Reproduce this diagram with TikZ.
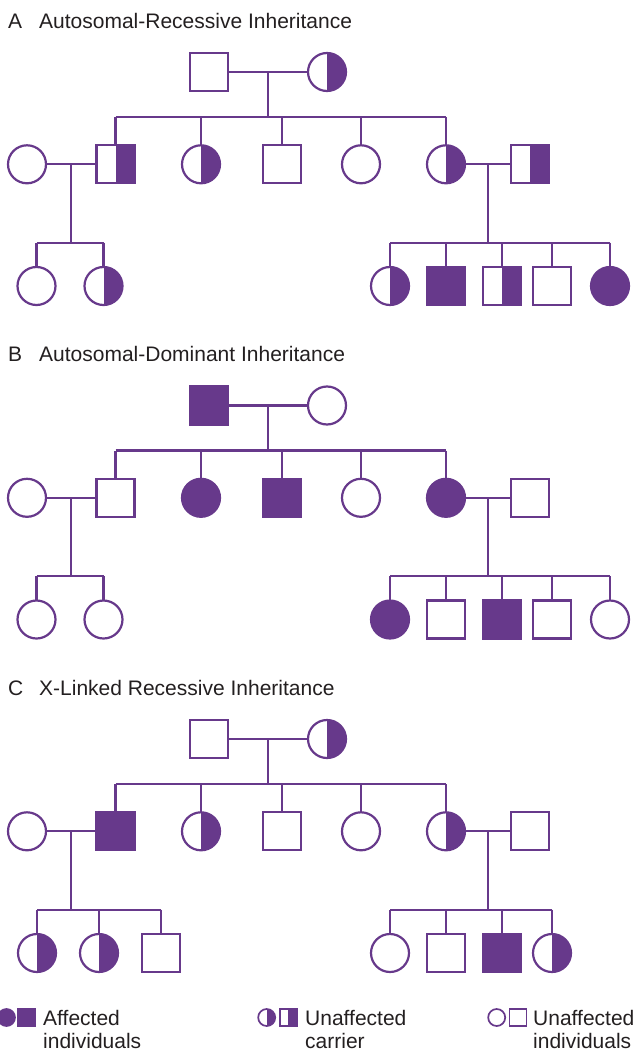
\documentclass[tikz,border=0pt]{standalone}
\usepackage{fontspec}
\setmainfont{Liberation Sans}
\usepackage{tikz}
\usetikzlibrary{calc}

\definecolor{pedi}{RGB}{103,57,139}
\definecolor{ink}{RGB}{35,31,32}

\tikzset{
  person/.style={draw=pedi, line width=2.2pt, fill=white, minimum size=38pt, inner sep=0pt, outer sep=0pt},
  male/.style={person, rectangle},
  female/.style={person, circle},
  affected/.style={fill=pedi},
  carrier/.style={path picture={\fill[pedi] (path picture bounding box.north) rectangle (path picture bounding box.south east);}},
  link/.style={draw=pedi, line width=2.2pt},
  legsym/.style={minimum size=17pt, line width=1.7pt},
  title/.style={anchor=base west, inner sep=0pt, text=ink, font=\fontsize{21}{25}\selectfont},
  legtext/.style={anchor=north west, inner sep=0pt, align=left, text=ink, font=\fontsize{21}{23.3}\selectfont}
}

\begin{document}
\begin{tikzpicture}[x=1pt,y=-1pt]
\useasboundingbox (0,0) rectangle (639,1051);

% A: autosomal recessive
\node[title] (aL) at (8,28.3) {A};
\node[title] (aT) at (39,28.3) {Autosomal-Recessive Inheritance};

% generation I
\node[male] (aI1) at (208.6,72) {};
\node[female,carrier] (aI2) at (327,72) {};

% generation II
\node[female] (aII1) at (27,164.3) {};
\node[male,carrier] (aII2) at (115.5,164.3) {};
\node[female,carrier] (aII3) at (201,164.3) {};
\node[male] (aII4) at (282,164.3) {};
\node[female] (aII5) at (361,164.3) {};
\node[female,carrier] (aII6) at (446,164.3) {};
\node[male,carrier] (aII7) at (530,164.3) {};

% generation III
\node[female] (aIII1) at (36.5,286) {};
\node[female,carrier] (aIII2) at (103.5,286) {};
\node[female,carrier] (aIII3) at (390,286) {};
\node[male,affected] (aIII4) at (446,286) {};
\node[male,carrier] (aIII5) at (502,286) {};
\node[male] (aIII6) at (552,286) {};
\node[female,affected] (aIII7) at (610,286) {};

% matings and sibships
\draw[link] (aI1) -- (aI2);
\draw[link] (aII1) -- (aII2);
\draw[link] (aII6) -- (aII7);
\draw[link] ($(aI1)!0.5!(aI2)$) -- ++(0,45) coordinate (aS1);
\draw[link] (aII2 |- aS1) -- (aII6 |- aS1);
\foreach \n in {2,...,6} \draw[link] (aII\n |- aS1) -- (aII\n);
\draw[link] ($(aII1)!0.5!(aII2)$) -- ++(0,78.4) coordinate (aS2);
\draw[link] (aIII1 |- aS2) -- (aIII2 |- aS2);
\foreach \n in {1,2} \draw[link] (aIII\n |- aS2) -- (aIII\n);
\draw[link] ($(aII6)!0.5!(aII7)$) -- ++(0,78.4) coordinate (aS3);
\draw[link] (aIII3 |- aS3) -- (aIII7 |- aS3);
\foreach \n in {3,...,7} \draw[link] (aIII\n |- aS3) -- (aIII\n);

% B: autosomal dominant
\begin{scope}[shift={(0,333.5)}]
\node[title] (bL) at (8,28.3) {B};
\node[title] (bT) at (39,28.3) {Autosomal-Dominant Inheritance};

\node[male,affected] (bI1) at (208.6,72) {};
\node[female] (bI2) at (327,72) {};

\node[female] (bII1) at (27,164.3) {};
\node[male] (bII2) at (115.5,164.3) {};
\node[female,affected] (bII3) at (201,164.3) {};
\node[male,affected] (bII4) at (282,164.3) {};
\node[female] (bII5) at (361,164.3) {};
\node[female,affected] (bII6) at (446,164.3) {};
\node[male] (bII7) at (530,164.3) {};

\node[female] (bIII1) at (36.5,286) {};
\node[female] (bIII2) at (103.5,286) {};
\node[female,affected] (bIII3) at (390,286) {};
\node[male] (bIII4) at (446,286) {};
\node[male,affected] (bIII5) at (502,286) {};
\node[male] (bIII6) at (552,286) {};
\node[female] (bIII7) at (610,286) {};

\draw[link] (bI1) -- (bI2);
\draw[link] (bII1) -- (bII2);
\draw[link] (bII6) -- (bII7);
\draw[link] ($(bI1)!0.5!(bI2)$) -- ++(0,45) coordinate (bS1);
\draw[link] (bII2 |- bS1) -- (bII6 |- bS1);
\foreach \n in {2,...,6} \draw[link] (bII\n |- bS1) -- (bII\n);
\draw[link] ($(bII1)!0.5!(bII2)$) -- ++(0,78.4) coordinate (bS2);
\draw[link] (bIII1 |- bS2) -- (bIII2 |- bS2);
\foreach \n in {1,2} \draw[link] (bIII\n |- bS2) -- (bIII\n);
\draw[link] ($(bII6)!0.5!(bII7)$) -- ++(0,78.4) coordinate (bS3);
\draw[link] (bIII3 |- bS3) -- (bIII7 |- bS3);
\foreach \n in {3,...,7} \draw[link] (bIII\n |- bS3) -- (bIII\n);
\end{scope}

% C: X-linked recessive
\begin{scope}[shift={(0,667)}]
\node[title] (cL) at (8,28.3) {C};
\node[title] (cT) at (39,28.3) {X-Linked Recessive Inheritance};

\node[male] (cI1) at (208.6,72) {};
\node[female,carrier] (cI2) at (327,72) {};

\node[female] (cII1) at (27,164.3) {};
\node[male,affected] (cII2) at (115.5,164.3) {};
\node[female,carrier] (cII3) at (201,164.3) {};
\node[male] (cII4) at (282,164.3) {};
\node[female] (cII5) at (361,164.3) {};
\node[female,carrier] (cII6) at (446,164.3) {};
\node[male] (cII7) at (530,164.3) {};

\node[female,carrier] (cIII1) at (37,286) {};
\node[female,carrier] (cIII2) at (99,286) {};
\node[male] (cIII3) at (160.6,286) {};
\node[female] (cIII4) at (390,286) {};
\node[male] (cIII5) at (446,286) {};
\node[male,affected] (cIII6) at (502,286) {};
\node[female,carrier] (cIII7) at (552,286) {};

\draw[link] (cI1) -- (cI2);
\draw[link] (cII1) -- (cII2);
\draw[link] (cII6) -- (cII7);
\draw[link] ($(cI1)!0.5!(cI2)$) -- ++(0,45) coordinate (cS1);
\draw[link] (cII2 |- cS1) -- (cII6 |- cS1);
\foreach \n in {2,...,6} \draw[link] (cII\n |- cS1) -- (cII\n);
\draw[link] ($(cII1)!0.5!(cII2)$) -- ++(0,78.4) coordinate (cS2);
\draw[link] (cIII1 |- cS2) -- (cIII3 |- cS2);
\foreach \n in {1,2,3} \draw[link] (cIII\n |- cS2) -- (cIII\n);
\draw[link] ($(cII6)!0.5!(cII7)$) -- ++(0,78.4) coordinate (cS3);
\draw[link] (cIII4 |- cS3) -- (cIII7 |- cS3);
\foreach \n in {4,...,7} \draw[link] (cIII\n |- cS3) -- (cIII\n);
\end{scope}

% legend
\node[female,affected,legsym] (lA1) at (6.5,1017.5) {};
\node[male,affected,legsym] (lA2) at (26.7,1017.5) {};
\node[legtext] (lAt) at (43,1009.6) {Affected\\individuals};
\node[female,carrier,legsym] (lC1) at (266.7,1017.5) {};
\node[male,carrier,legsym] (lC2) at (288.3,1017.5) {};
\node[legtext] (lCt) at (305,1009.6) {Unaffected\\carrier};
\node[female,legsym] (lU1) at (496.7,1017.5) {};
\node[male,legsym] (lU2) at (518,1017.5) {};
\node[legtext] (lUt) at (533,1009.6) {Unaffected\\individuals};

\end{tikzpicture}
\end{document}
